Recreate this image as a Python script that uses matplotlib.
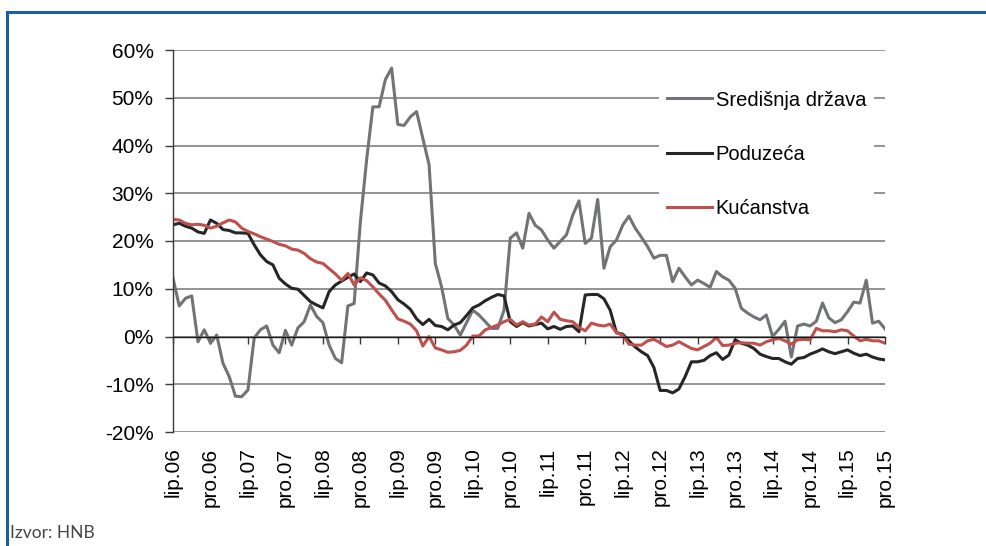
import matplotlib
matplotlib.use("Agg")
import matplotlib.pyplot as plt
from matplotlib.lines import Line2D
from matplotlib.ticker import FuncFormatter

plt.rcParams['font.family'] = ['Liberation Sans', 'DejaVu Sans']

# Monthly data, lip.06 (Jun 2006) .. pro.15 (Dec 2015), % annual change
sredisnja = [
    12.2, 6.4, 8.0, 8.5, -1.1, 1.4, -1.4, 0.3, -5.6, -8.4,
    -12.5, -12.6, -11.2, -0.3, 1.4, 2.2, -1.8, -3.4, 1.3, -1.8,
    1.8, 3.1, 6.6, 4.2, 2.9, -1.8, -4.6, -5.5, 6.4, 6.9,
    24.0, 37.0, 48.1, 48.1, 53.8, 56.2, 44.4, 44.2, 46.0, 47.1,
    41.5, 36.0, 15.3, 10.4, 3.8, 2.4, 0.3, 2.9, 5.5, 4.5,
    3.1, 1.7, 1.7, 5.5, 20.6, 21.7, 18.5, 25.8, 23.3, 22.3,
    20.2, 18.5, 19.9, 21.3, 25.4, 28.4, 19.5, 20.6, 28.7, 14.3,
    18.8, 20.2, 23.3, 25.2, 22.7, 20.8, 18.8, 16.4, 17.0, 17.0,
    11.5, 14.3, 12.5, 10.8, 11.8, 11.1, 10.3, 13.6, 12.5, 11.8,
    10.1, 5.9, 4.9, 4.1, 3.5, 4.5, 0.0, 1.5, 3.2, -4.3,
    2.2, 2.6, 2.2, 3.2, 7.0, 3.9, 2.9, 3.5, 5.2, 7.2,
    7.0, 11.8, 2.8, 3.2, 1.6,
]
poduzeca = [
    23.4, 23.7, 23.1, 22.7, 21.9, 21.6, 24.4, 23.7, 22.4, 22.2,
    21.7, 21.7, 21.6, 19.2, 17.1, 15.7, 15.0, 12.2, 11.0, 10.1,
    9.9, 8.6, 7.3, 6.6, 6.0, 9.4, 10.8, 11.6, 12.4, 13.1,
    11.5, 13.3, 12.9, 11.2, 10.6, 9.4, 7.7, 6.8, 5.7, 3.7,
    2.5, 3.6, 2.3, 2.1, 1.4, 2.4, 2.9, 4.4, 6.0, 6.6,
    7.5, 8.2, 8.8, 8.5, 3.1, 2.1, 2.9, 2.2, 2.5, 2.8,
    1.6, 2.1, 1.5, 2.1, 2.2, 1.0, 8.7, 8.8, 8.8, 7.9,
    5.5, 0.8, 0.5, -0.9, -2.2, -3.2, -4.0, -6.5, -11.3, -11.3,
    -11.8, -11.0, -8.4, -5.3, -5.3, -5.0, -4.0, -3.4, -4.8, -3.9,
    -0.7, -1.4, -1.8, -2.5, -3.7, -4.2, -4.6, -4.6, -5.3, -5.8,
    -4.6, -4.4, -3.7, -3.2, -2.6, -3.2, -3.6, -3.2, -2.8, -3.5,
    -4.0, -3.7, -4.3, -4.7, -4.9,
]
kucanstva = [
    24.5, 24.4, 23.7, 23.4, 23.5, 23.3, 22.7, 23.1, 23.8, 24.4,
    24.0, 22.7, 22.0, 21.5, 20.9, 20.4, 19.9, 19.3, 19.0, 18.3,
    18.1, 17.4, 16.3, 15.6, 15.3, 14.2, 13.1, 11.8, 13.2, 10.8,
    12.3, 11.7, 10.4, 8.9, 7.6, 5.6, 3.7, 3.2, 2.6, 1.2,
    -2.0, 0.0, -2.4, -2.8, -3.3, -3.2, -2.9, -1.8, 0.1, 0.1,
    1.4, 1.9, 2.4, 3.1, 3.6, 2.4, 3.1, 2.4, 2.6, 4.1,
    3.1, 5.1, 3.6, 3.3, 3.1, 1.9, 1.2, 2.8, 2.4, 2.2,
    2.6, 0.8, 0.3, -1.6, -1.8, -1.8, -0.9, -0.6, -1.3, -2.1,
    -1.8, -1.1, -1.8, -2.5, -2.8, -2.1, -1.4, -0.2, -1.9, -1.8,
    -1.4, -1.3, -1.4, -1.4, -1.8, -1.1, -0.7, -0.4, -0.9, -1.6,
    -0.7, -0.6, -0.7, 1.7, 1.2, 1.2, 1.0, 1.4, 1.2, 0.1,
    -0.9, -0.6, -0.9, -0.9, -1.4,
]
tick_labels = ['lip.06', 'pro.06', 'lip.07', 'pro.07', 'lip.08', 'pro.08',
               'lip.09', 'pro.09', 'lip.10', 'pro.10', 'lip.11', 'pro.11',
               'lip.12', 'pro.12', 'lip.13', 'pro.13', 'lip.14', 'pro.14',
               'lip.15', 'pro.15']
series_names = ['Središnja država', 'Poduzeća', 'Kućanstva']
y_ticks = [-20, -10, 0, 10, 20, 30, 40, 50, 60]

W, H = 987, 546
fig = plt.figure(figsize=(W / 100, H / 100), dpi=100)
ax = fig.add_axes([173 / W, 1 - 432 / H, (885 - 173) / W, (432 - 50) / H])

ax.spines['top'].set_visible(False)
ax.spines['right'].set_visible(False)
ax.spines['left'].set_color('#3a3a3a')
ax.spines['left'].set_linewidth(1.0)
ax.spines['bottom'].set_position(('data', 0))
ax.spines['bottom'].set_color('#1a1a1a')
ax.spines['bottom'].set_linewidth(1.0)

x = list(range(len(sredisnja)))
colors = ['#727376', '#262626', '#c0504d']
for vals, name, c in zip([sredisnja, poduzeca, kucanstva], series_names, colors):
    ax.plot(x, vals, color=c, lw=2.2, label=name)

ax.set_xlim(0, len(x) - 1)
ax.set_ylim(-20, 60)
ax.set_yticks(y_ticks)
ax.yaxis.set_major_formatter(FuncFormatter(lambda v, p: f"{int(v)}%"))
ax.set_xticks(list(range(0, len(x), 6)))
ax.set_xticklabels(tick_labels)

ax.grid(axis='y', color='#8a8a8a', lw=1.3)
ax.set_axisbelow(True)

ax.tick_params(axis='y', direction='out', length=6, width=1, colors='#3a3a3a',
               labelsize=15, labelcolor='black', pad=8)
ax.tick_params(axis='x', direction='out', length=5, width=1, colors='#3a3a3a',
               labelsize=15, labelcolor='black', pad=75, labelrotation=90)

leg = ax.legend(loc='upper left', bbox_to_anchor=(0.683, 0.915), fontsize=14.5,
                frameon=True, facecolor='white', edgecolor='none', framealpha=1,
                fancybox=False, handlelength=2.2, handletextpad=0.2,
                labelspacing=1.75, borderpad=0.4, borderaxespad=0)

# blue frame
fig.add_artist(Line2D([7 / W, 1], [1 - 12 / H, 1 - 12 / H], color='#1a5ea8', lw=2.2,
                      transform=fig.transFigure))
fig.add_artist(Line2D([7 / W, 7 / W], [0, 1 - 12 / H], color='#1a5ea8', lw=2.2,
                      transform=fig.transFigure))

fig.text(10 / W, 1 - 533 / H, 'Izvor: HNB', fontsize=12.5, color='#444444',
         va='center', ha='left', family=['Lato', 'DejaVu Sans'])

fig.savefig('out.png', dpi=100)
